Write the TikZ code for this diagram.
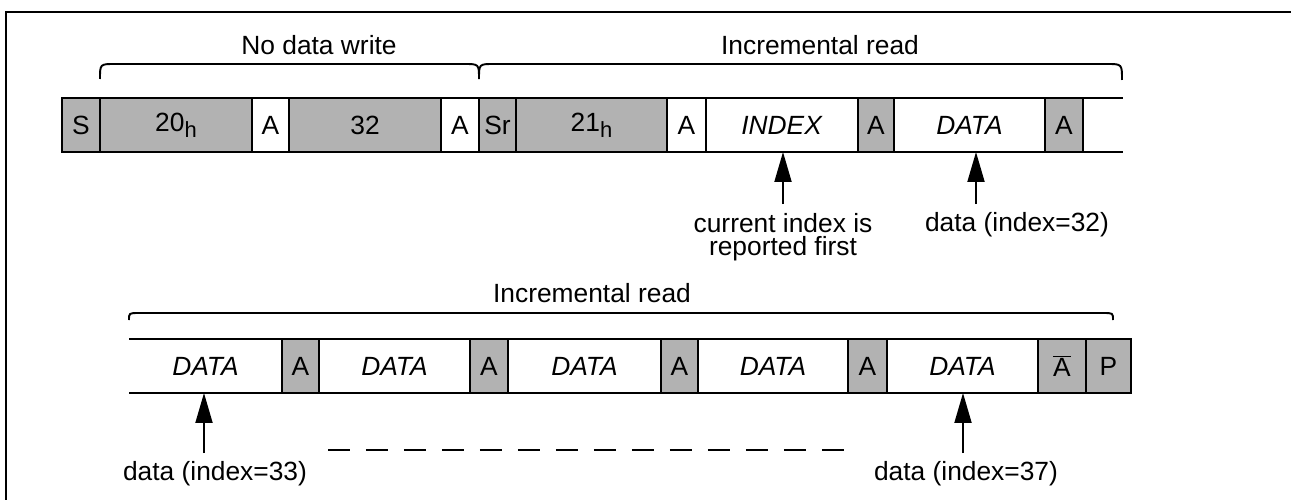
\documentclass[tikz,border=0pt]{standalone}
\usepackage{fontspec}
\setmainfont{Liberation Sans}
\usetikzlibrary{arrows.meta}

\begin{document}
\begin{tikzpicture}[x=0.02cm,y=-0.02cm,font=\fontsize{15}{13}\selectfont,
  cell/.style={draw,line width=1.6pt,minimum height=1.08cm,inner sep=0pt,outer sep=0pt,minimum width=#1*0.02cm},
  grey/.style={cell=#1,fill=black!30},
  open/.style={minimum height=1.08cm,inner sep=0pt,outer sep=0pt,minimum width=#1*0.02cm},
  edge/.style={line width=1.6pt},
  lbl/.style={align=center},
  brace/.style={line width=1.1pt},
  up/.style={-{Triangle[length=0.6cm,width=0.34cm]},line width=1.1pt}]
  \useasboundingbox (0,0) rectangle (1291,500);
  \draw[line width=1.1pt] (1291,12) -- (6,12) -- (6,500);

  \node[grey=38] (s) at (81,125) {S};
  \node[grey=152] (adr1) at (176,125) {20\raisebox{-0.45ex}{\fontsize{12.5}{12}\selectfont h}};
  \node[cell=37] (ack1) at (270.5,125) {A};
  \node[grey=152] (cmd) at (365,125) {32};
  \node[cell=38] (ack2) at (460,125) {A};
  \node[grey=37] (sr) at (497.5,125) {Sr};
  \node[grey=151] (adr2) at (591.5,125) {21\raisebox{-0.45ex}{\fontsize{12.5}{12}\selectfont h}};
  \node[cell=39] (ack3) at (686.5,125) {A};
  \node[cell=152] (index) at (782,125) {\textit{INDEX}};
  \node[grey=36] (ack4) at (876,125) {A};
  \node[cell=151] (data0) at (969.5,125) {\textit{DATA}};
  \node[grey=38] (ack5) at (1064,125) {A};
  \node[open=40] (more) at (1103,125) {};
  \draw[edge] (more.north west) -- (more.north east) (more.south west) -- (more.south east);

  \draw[brace] (100,79) .. controls (100,64) .. (115,64) -- (464,64) .. controls (479,64) .. (479,79)
    .. controls (479,64) .. (494,64) -- (1107,64) .. controls (1122,64) .. (1122,80);
  \node (nowr) at (319,45) {No data write};
  \node (incr1) at (820,45) {Incremental read};

  \coordinate (t1) at (783,204);
  \coordinate (t2) at (976,204);
  \draw[up] (t1) -- (t1 |- index.south);
  \draw[up] (t2) -- (t2 |- data0.south);
  \node[lbl] (cur) at (783,237) {current index is\\reported first};
  \node (v32) at (1017,225) {data (index=32)};

  \node[open=153] (d1) at (205.5,366) {\textit{DATA}};
  \node[grey=37] (b1) at (300.5,366) {A};
  \node[cell=151] (d2) at (394.5,366) {\textit{DATA}};
  \node[grey=38] (b2) at (489,366) {A};
  \node[cell=153] (d3) at (584.5,366) {\textit{DATA}\hspace{0.4cm}};
  \node[grey=37] (b3) at (679.5,366) {A};
  \node[cell=150] (d4) at (773,366) {\textit{DATA}};
  \node[grey=39] (b4) at (867.5,366) {A};
  \node[cell=151] (d5) at (962.5,366) {\textit{DATA}\hspace{0.4cm}};
  \node[grey=48] (nak) at (1062,366) {$\overline{\mbox{A}}$};
  \node[grey=45] (p) at (1108.5,366) {P};
  \draw[edge] (d1.north west) -- (d1.north east) (d1.south west) -- (d1.south east);

  \draw[brace] (129,320) .. controls (129,313) .. (139,313) -- (1103,313) .. controls (1113,313) .. (1113,320);
  \node (incr2) at (592,293) {Incremental read};

  \coordinate (t3) at (204,453);
  \coordinate (t4) at (963,453);
  \draw[up] (t3) -- (t3 |- d1.south);
  \draw[up] (t4) -- (t4 |- d5.south);
  \node (v33) at (215,474) {data (index=33)};
  \node (v37) at (966,474) {data (index=37)};
  \draw[line width=1pt,dash pattern=on 0.44cm off 0.32cm] (328,450) -- (855,450);
\end{tikzpicture}
\end{document}
